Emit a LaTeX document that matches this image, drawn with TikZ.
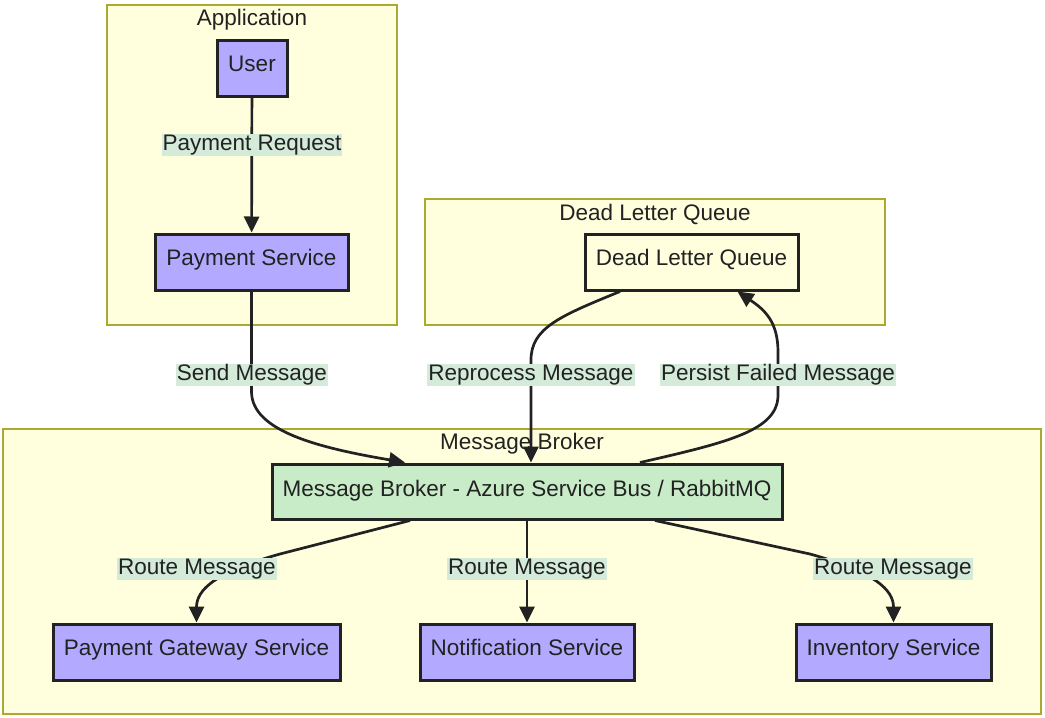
\documentclass[tikz,border=0pt]{standalone}
\usepackage{fontspec}
\setmainfont{Liberation Sans}
\usetikzlibrary{arrows.meta}
\definecolor{clusterfill}{HTML}{FFFFDE}
\definecolor{clusterline}{HTML}{AAAA33}
\definecolor{svcfill}{HTML}{B3A9FE}
\definecolor{brokerfill}{HTML}{C8ECC8}
\definecolor{lblfill}{HTML}{D3EBD8}
\definecolor{ink}{HTML}{222222}
\tikzset{
  cluster/.style={draw=clusterline, fill=clusterfill, line width=1.5pt},
  ctitle/.style={text=ink, inner sep=0pt},
  box/.style={draw=ink, line width=3pt, fill=svcfill, minimum height=56pt, inner sep=0pt,
    text height=16pt, text depth=10pt, text=ink},
  flow/.style={draw=ink, line width=2.7pt, -{Triangle[length=16pt,width=15pt]}},
  lbl/.style={fill=lblfill, inner sep=1pt, text=ink},
}
\begin{document}
\begin{tikzpicture}[x=1pt, y=-1pt, font=\fontsize{22.5}{27}\selectfont]
        \useasboundingbox (0,0) rectangle (1045,718);
        %% clusters
        \draw[cluster] (107,5) rectangle (397,325);
        \node[ctitle] (apptitle) at (252,20) {Application};
        \draw[cluster] (425,199) rectangle (885,325);
        \node[ctitle] (dlqtitle) at (655,214) {Dead Letter Queue};
        \draw[cluster] (3,429) rectangle (1041,714);
        \node[ctitle] (brokertitle) at (522,444) {Message Broker};
        %% nodes
        \node[box, minimum width=70pt] (user) at (252,68) {User};
        \node[box, minimum width=193pt] (paysvc) at (251.5,262) {Payment Service};
        \node[box, fill=clusterfill, minimum width=213pt] (dlq) at (691.5,262) {Dead Letter Queue};
        \node[box, fill=brokerfill, minimum width=510pt, minimum height=55pt, text depth=6pt] (broker) at (527,491.5) {Message Broker - Azure Service Bus / RabbitMQ};
        \node[box, minimum width=287pt] (gateway) at (196.5,652) {Payment Gateway Service};
        \node[box, minimum width=214pt] (notify) at (527,652) {Notification Service};
        \node[box, minimum width=195pt] (inventory) at (893.5,652) {Inventory Service};
        %% edges
        \draw[flow] (user) -- (paysvc);
        \draw[flow] (paysvc.south) -- ++(0,100) .. controls +(0,40) and (320,448) .. ([xshift=-122pt]broker.north);
        \draw[flow] ([xshift=-71.5pt]dlq.south) .. controls (560,316) and (531,328) .. (531,360) -- ([xshift=4pt]broker.north);
        \draw[flow] ([xshift=113pt]broker.north) .. controls (730,442) and (778,430) .. (778,395) -- (778,352) .. controls (778,322) and (765,310) .. ([xshift=46pt]dlq.south);
        \draw[flow] ([xshift=-117pt]broker.south) -- (280,554) .. controls (215,572) and (196.5,590) .. (gateway.north);
        \draw[flow] (broker.south) -- (notify.north);
        \draw[flow] ([xshift=128pt]broker.south) -- (810,554) .. controls (875,572) and (893.5,590) .. (inventory.north);
        %% edge labels
        \node[lbl] (reqlbl) at (252,145) {Payment Request};
        \node[lbl] (sendlbl) at (252,375) {Send Message};
        \node[lbl] (reproclbl) at (531,375) {Reprocess Message};
        \node[lbl] (persistlbl) at (778,375) {Persist Failed Message};
        \node[lbl] (routea) at (197,569) {Route Message};
        \node[lbl] (routeb) at (527,569) {Route Message};
        \node[lbl] (routec) at (893,569) {Route Message};
    \end{tikzpicture}
\end{document}
